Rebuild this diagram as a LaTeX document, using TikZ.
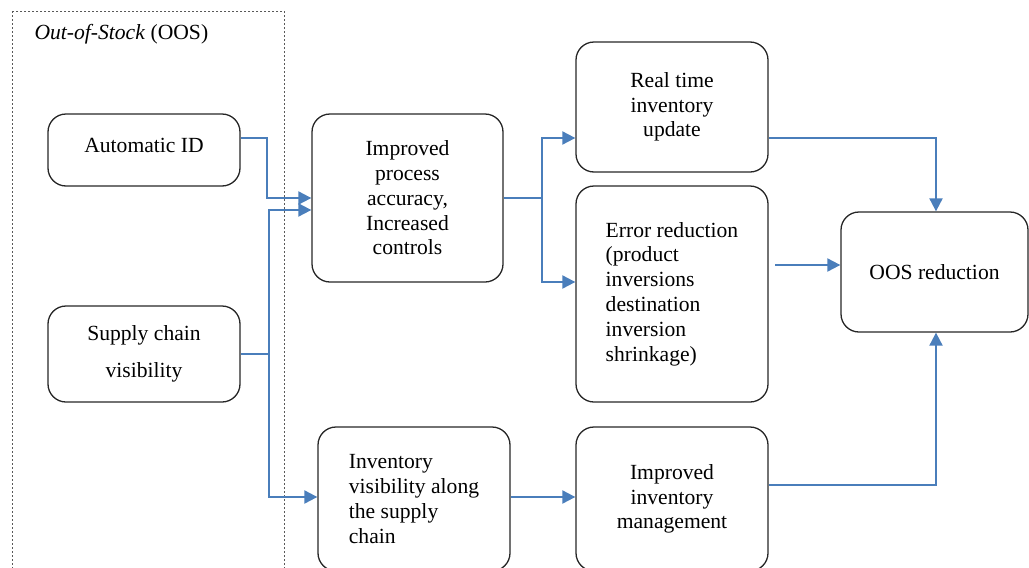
\documentclass[tikz,border=0pt]{standalone}
\usepackage{fontspec}
\setmainfont{Liberation Serif}
\usetikzlibrary{arrows.meta,calc}
\definecolor{linkblue}{HTML}{4A7EBB}
\definecolor{boxline}{HTML}{262626}
\tikzset{
  x=1pt,y=-1pt,
  txt/.style={font=\fontsize{21.6}{24.8}\selectfont},
  box/.style={txt,draw=boxline,line width=1.3pt,rounded corners=18pt,inner sep=0pt},
  link/.style={draw=linkblue,line width=2pt},
  conn/.style={link,-{Triangle[length=13pt,width=13pt]}},
  frame/.style={draw=black!65,line width=1pt,dash pattern=on 2pt off 2pt},
}
\begin{document}
\begin{tikzpicture}
\useasboundingbox (0,0) rectangle (1029,568);
\clip (0,0) rectangle (1029,568);
\draw[frame] (12,11) rectangle (284,620);
\node[anchor=west,txt] (title) at (31,34) {\textit{Out-of-Stock} (OOS)};

\node[box,minimum width=192,minimum height=72,align=center] (auto) at (144,150) {\raisebox{10pt}{Automatic ID}};
\node[box,minimum width=192,minimum height=96,align=center] (supply) at (144,354) {Supply chain\\[12pt]visibility};
\node[box,minimum width=191,minimum height=168,align=center] (proc) at (407.5,198) {Improved\\process\\accuracy,\\Increased\\controls};
\node[box,minimum width=192,minimum height=144,align=left] (invvis) at (414,499) {Inventory\\visibility along\\the supply\\chain};
\node[box,minimum width=192,minimum height=130,align=center] (rt) at (672,107) {Real time\\inventory\\update};
\node[box,minimum width=192,minimum height=216,align=left] (err) at (672,294) {Error reduction\\(product\\inversions\\destination\\inversion\\shrinkage)};
\node[box,minimum width=192,minimum height=144,align=center] (mgmt) at (672,499) {Improved\\inventory\\management};
\node[box,minimum width=187,minimum height=120,align=center] (oos) at (934.5,272) {OOS reduction};

% left connectors
\draw[conn] ([yshift=12pt]auto.east) -- ++(26,0) |- (proc.west);
\draw[link] (supply.east) -- ++(28,0) coordinate (sj);
\draw[conn] (sj) |- ([yshift=-12pt]proc.west);
\draw[conn] (sj) |- ([yshift=2pt]invvis.west);

% process fan-out
\draw[link] (proc.east) -- ++(38,0) coordinate (pj);
\draw[conn] (pj) |- ([yshift=-31pt]rt.west);
\draw[conn] (pj) |- ([yshift=12pt]err.west);

% right side
\draw[conn] ([yshift=-31pt]rt.east) -| ([xshift=1.5pt]oos.north);
\coordinate (e1) at (775,265);
\draw[conn] (e1) -- (oos.west |- e1);
\draw[conn] ([yshift=14pt]mgmt.east) -| ([xshift=1.5pt]oos.south);
\draw[conn] ([yshift=2pt]invvis.east) -- ([yshift=2pt]mgmt.west);
\end{tikzpicture}
\end{document}
